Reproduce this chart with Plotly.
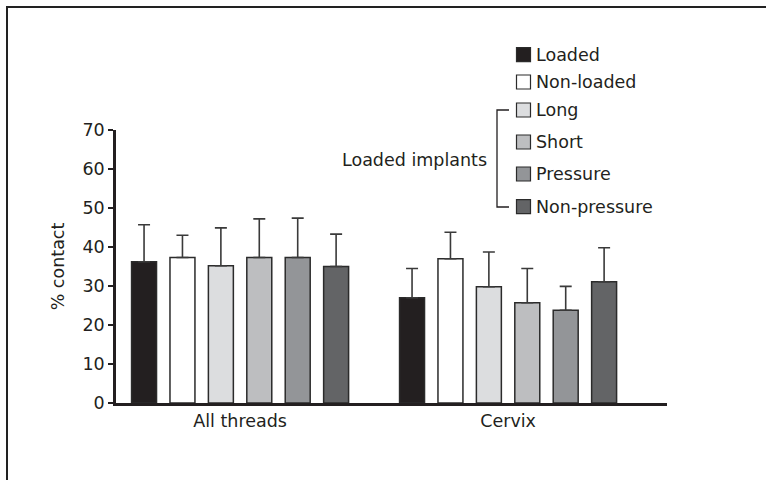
import plotly.graph_objects as go

groups = ["All threads", "Cervix"]
series = ["Loaded", "Non-loaded", "Long", "Short", "Pressure", "Non-pressure"]
colors = ["#231f20", "#ffffff", "#dcdddf", "#bdbec0", "#939598", "#636466"]
means = {
    "Loaded":       [36.2, 27.0],
    "Non-loaded":   [37.3, 37.0],
    "Long":         [35.2, 29.8],
    "Short":        [37.3, 25.7],
    "Pressure":     [37.3, 23.8],
    "Non-pressure": [35.0, 31.1],
}
errors = {
    "Loaded":       [9.5, 7.5],
    "Non-loaded":   [5.7, 6.8],
    "Long":         [9.7, 8.9],
    "Short":        [9.9, 8.8],
    "Pressure":     [10.1, 6.1],
    "Non-pressure": [8.3, 8.7],
}
y_ticks = [0, 10, 20, 30, 40, 50, 60, 70]
bracket_label = "Loaded implants"

FONT = "DejaVu Sans"
TXT = "#231f20"
FS = 17.5

W, H = 766, 480
ML, MR, MT, MB = 116, 99, 130, 77
PW, PH = W - ML - MR, H - MT - MB

fig = go.Figure()
xpos = list(range(len(groups)))
for name, col in zip(series, colors):
    fig.add_trace(go.Bar(
        x=xpos, y=means[name], name=name,
        marker=dict(color=col, line=dict(color="#2b2b2b", width=1.5)),
        error_y=dict(type="data", array=errors[name], arrayminus=[0] * len(groups),
                     symmetric=False, color="#3a3a3a", thickness=1.6, width=6),
        showlegend=False,
    ))

fig.update_layout(
    width=W, height=H,
    margin=dict(l=ML, r=MR, t=MT, b=MB),
    paper_bgcolor="white", plot_bgcolor="white",
    barmode="group", bargap=0.14, bargroupgap=0.35,
    font=dict(family=FONT, size=FS, color=TXT),
    xaxis=dict(range=[-0.463, 1.593], tickvals=xpos, ticktext=groups,
               showline=True, linecolor=TXT, linewidth=2.5, ticks="",
               showgrid=False, zeroline=False, tickfont=dict(size=FS)),
    yaxis=dict(range=[0, 70], tickvals=y_ticks, showline=True, linecolor=TXT,
               linewidth=2.5, ticks="outside", ticklen=5, tickwidth=2, tickcolor=TXT,
               showgrid=False, zeroline=False, tickfont=dict(size=FS),
               title=dict(text="% contact", font=dict(size=FS), standoff=14)),
)

def px(x): return (x - ML) / PW
def py(y): return (H - MB - y) / PH

legend_y = [54.7, 82, 110, 142, 174, 206.7]
shapes = []
annotations = []
for name, col, yc in zip(series, colors, legend_y):
    shapes.append(dict(type="rect", xref="paper", yref="paper",
                       x0=px(516.5), x1=px(530.5), y0=py(yc + 7), y1=py(yc - 7),
                       fillcolor=col, line=dict(color="#2b2b2b", width=1.2)))
    annotations.append(dict(text=name, xref="paper", yref="paper", x=px(534), y=py(yc),
                            xanchor="left", yanchor="middle", showarrow=False,
                            font=dict(size=FS, color=TXT)))
shapes.append(dict(type="path", xref="paper", yref="paper",
                   path=f"M {px(509)},{py(110)} L {px(497)},{py(110)} L {px(497)},{py(207)} L {px(509)},{py(207)}",
                   line=dict(color=TXT, width=1.3)))
annotations.append(dict(text=bracket_label, xref="paper", yref="paper", x=px(489), y=py(160),
                        xanchor="right", yanchor="middle", showarrow=False,
                        font=dict(size=FS, color=TXT)))
# outer frame (top and left)
shapes.append(dict(type="line", xref="paper", yref="paper", x0=px(6), x1=px(766), y0=py(7), y1=py(7),
                   line=dict(color="#222", width=2)))
shapes.append(dict(type="line", xref="paper", yref="paper", x0=px(7), x1=px(7), y0=py(6), y1=py(480),
                   line=dict(color="#222", width=2)))

fig.update_layout(shapes=shapes, annotations=annotations)
fig.write_html("out.html")
